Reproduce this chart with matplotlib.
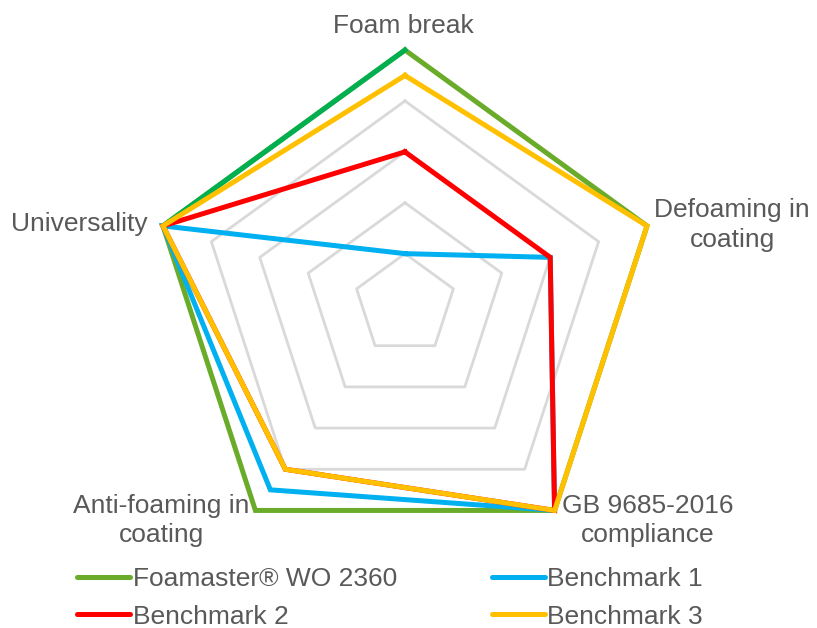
"""
Radar chart: defoamer performance comparison.
"""
import numpy as np
import matplotlib

matplotlib.use("Agg")
import matplotlib.pyplot as plt
from matplotlib.lines import Line2D


categories = [
    "Foam break",
    "Defoaming in\ncoating",
    "GB 9685-2016\ncompliance",
    "Anti-foaming in\ncoating",
    "Universality",
]
series_names = ["Foamaster® WO 2360", "Benchmark 1", "Benchmark 2", "Benchmark 3"]
foamaster = [5, 5, 5, 5, 5]
benchmark_1 = [1, 3, 5, 4.5, 5]
benchmark_2 = [3, 3, 5, 4, 5]
benchmark_3 = [4.5, 5, 5, 4, 5]
grid_levels = [1, 2, 3, 4, 5]

colors = ["#6AAB2A", "#00B0F0", "#FF0000", "#FFC000"]
# the Universality -> Foam break edge of Foamaster is drawn in a darker green
foamaster_top_edge = "#00B050"
grid_color = "#D9D9D9"
text_color = "#595959"

# label offsets from each outer vertex, in pixels
label_offsets = [(-2, 24), (85, 1), (93, -10), (-94, -10), (-84, 2)]

plt.rcParams["font.family"] = ["Liberation Sans", "DejaVu Sans"]
FS = 19

n = len(categories)
theta = np.linspace(0, 2 * np.pi, n, endpoint=False)
theta_closed = np.append(theta, theta[0])


def closed(values):
    return np.append(values, values[0])


fig = plt.figure(figsize=(8.17, 6.28), dpi=100)
ax = fig.add_axes([0.1842, 0.1098, 0.623, 0.8105], projection="polar")
ax.set_theta_offset(np.pi / 2)
ax.set_theta_direction(-1)
ax.set_ylim(0, 5)
ax.set_axis_off()

for level in grid_levels:
    ax.plot(theta_closed, [level] * (n + 1), color=grid_color, linewidth=2.0,
            clip_on=False, zorder=1)

all_series = [foamaster, benchmark_1, benchmark_2, benchmark_3]
for values, color in zip(all_series, colors):
    ax.plot(theta_closed, closed(values), color=color, linewidth=3.6,
            solid_joinstyle="miter", clip_on=False, zorder=2)
    if values is foamaster:
        ax.plot([theta[-1], 2 * np.pi], [values[-1], values[0]],
                color=foamaster_top_edge, linewidth=3.6,
                solid_joinstyle="miter", clip_on=False, zorder=2)

for t, label, (dx, dy) in zip(theta, categories, label_offsets):
    ax.annotate(label, xy=(t, 5), xytext=(dx, dy), textcoords="offset pixels",
                ha="center", va="center", multialignment="center",
                fontsize=FS, color=text_color, annotation_clip=False,
                linespacing=1.3)

handles = [Line2D([0], [0], color=c, linewidth=3.6, solid_capstyle="round")
           for c in colors]
order = [0, 2, 1, 3]
leg = fig.legend([handles[i] for i in order], [series_names[i] for i in order],
                 ncol=2, loc="center", bbox_to_anchor=(390 / 817, 1 - 598 / 628),
                 frameon=False, fontsize=FS, handlelength=2.0, handletextpad=0.1,
                 columnspacing=3.6, labelspacing=0.5)
for txt in leg.get_texts():
    txt.set_color(text_color)

fig.savefig("out.png", dpi=100)
